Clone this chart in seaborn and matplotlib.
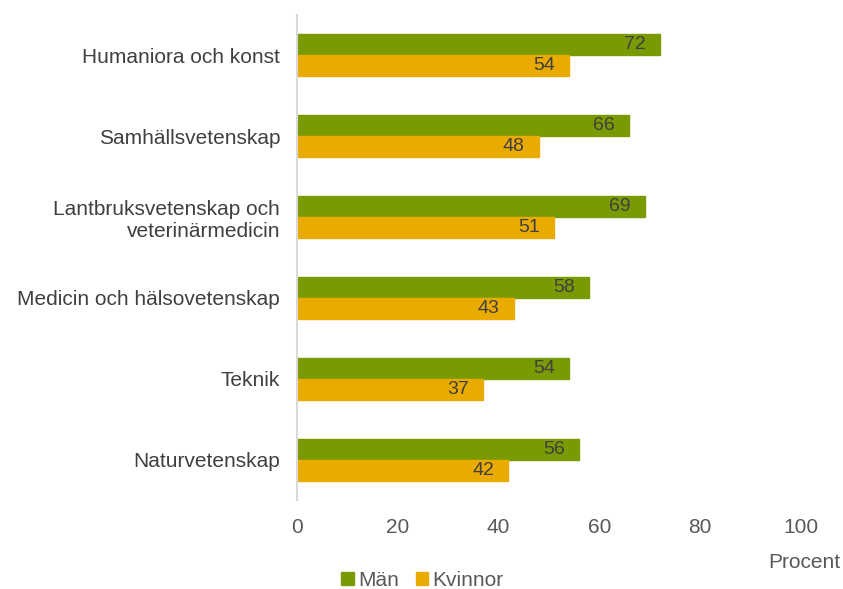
import matplotlib
matplotlib.use("Agg")
import matplotlib.pyplot as plt
import pandas as pd
import seaborn as sns

categories = ["Humaniora och konst", "Samhällsvetenskap",
              "Lantbruksvetenskap och\nveterinärmedicin",
              "Medicin och hälsovetenskap", "Teknik", "Naturvetenskap"]
man = [72, 66, 69, 58, 54, 56]
kvinnor = [54, 48, 51, 43, 37, 42]
series = ["Män", "Kvinnor"]
colors = ["#7a9a01", "#eaab00"]

df = pd.DataFrame({
    "Område": categories * 2,
    "Procent": man + kvinnor,
    "Kön": [series[0]] * len(categories) + [series[1]] * len(categories),
})

sns.set_style("white")
plt.rcParams["font.family"] = ["Liberation Sans", "DejaVu Sans"]

fig = plt.figure(figsize=(8.43, 5.89), dpi=100)
ax = fig.add_axes([0.352, 0.151, 0.598, 0.824])

sns.barplot(data=df, y="Område", x="Procent", hue="Kön", order=categories,
            hue_order=series, palette=colors, orient="h", width=0.52,
            saturation=1, ax=ax, legend=False)

for cont, col in zip(ax.containers, colors):
    for bar in cont:
        bar.set_edgecolor(col)
        w = bar.get_width()
        ax.text(w - 5, bar.get_y() + bar.get_height() / 2, f"{w:.0f}",
                ha="center", va="center", fontsize=14, color="#404040")

ax.set_xlim(0, 100)
ax.set_xticks([0, 20, 40, 60, 80, 100])
ax.tick_params(axis="x", labelsize=15, colors="#595959", length=0, pad=13)
ax.tick_params(axis="y", labelsize=15, colors="#404040", length=0, pad=12)
for lbl in ax.get_yticklabels():
    lbl.set_horizontalalignment("right")
ax.set_xlabel("")
ax.set_ylabel("")
for s in ["top", "right", "bottom"]:
    ax.spines[s].set_visible(False)
ax.spines["left"].set_color("#d9d9d9")
ax.spines["left"].set_linewidth(1.5)

fig.text(0.997, 0.045, "Procent", ha="right", va="center", fontsize=15, color="#595959")

handles = [plt.Rectangle((0, 0), 1, 1, color=c) for c in colors]
fig.legend(handles, series, loc="center left", bbox_to_anchor=(0.405, 0.015),
           ncol=2, frameon=False, fontsize=15, handlelength=0.6, handleheight=0.6,
           handletextpad=0.2, columnspacing=0.8, labelcolor="#595959",
           borderaxespad=0, borderpad=0)

fig.savefig("out.png", dpi=100)
